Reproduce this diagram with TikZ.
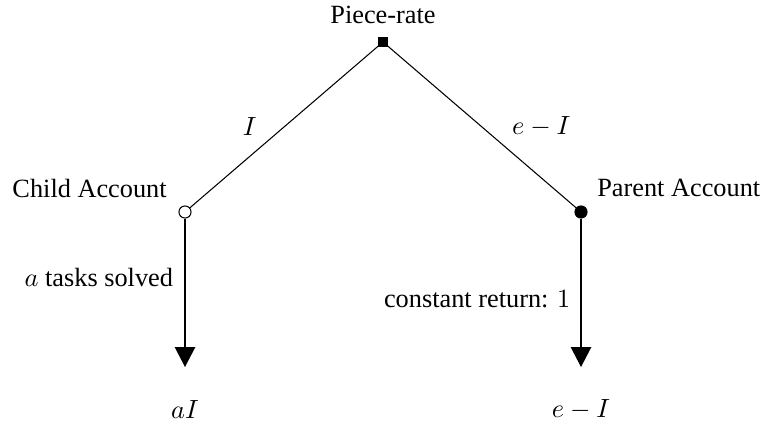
\documentclass[tikz,border=0pt]{standalone}
\usepackage{fontspec}
\setmainfont{Liberation Serif}
\usetikzlibrary{positioning,arrows.meta}

\begin{document}
\begin{tikzpicture}[
  x=0.38pt, y=-0.38pt,
  raiz/.style={draw, fill=black, rectangle, inner sep=0pt, minimum size=3.2pt},
  hueco/.style={draw, fill=white, circle, inner sep=0pt, minimum size=4.6pt},
  lleno/.style={draw, fill=black, circle, inner sep=0pt, minimum size=4.6pt},
  rama/.style={black, thin},
  flecha/.style={-{Triangle[length=7.6pt, width=7.8pt]}, black, thin}
]
\useasboundingbox (0,0) rectangle (763,431);

\node[raiz] (pr) at (383,42) {};
\node[hueco] (ch) at (185,212) {};
\node[lleno] (pa) at (581,212) {};
\coordinate (fa) at (185,367);
\coordinate (fb) at (581,367);

\node[above=1.5pt of pr] (prl) {Piece-rate};
\node[anchor=east] (chl) at (176,188) {Child Account};
\node[anchor=west] (pal) at (588,188) {Parent Account};

\draw[rama] (pr) -- node[left=7pt] {$I$} (ch);
\draw[rama] (pr) -- node[right=8pt] {$e-I$} (pa);

\draw[flecha] (ch) -- node[pos=0.40, left=1pt] {$a$ tasks solved} (fa);
\draw[flecha] (pa) -- node[pos=0.54, left=0.5pt] {constant return: $1$} (fb);

\node (ra) at (185,410) {$aI$};
\node (rb) at (581,410) {$e-I$};

\end{tikzpicture}
\end{document}
